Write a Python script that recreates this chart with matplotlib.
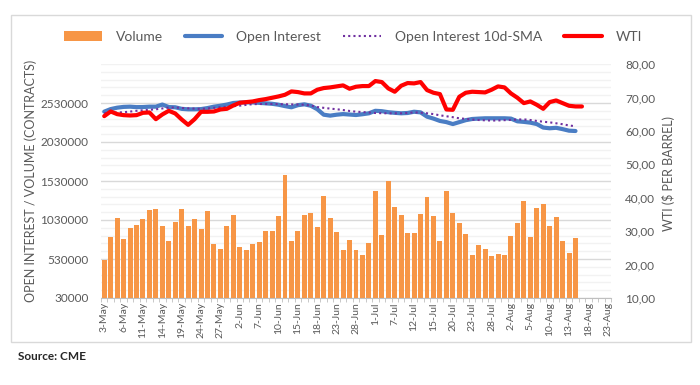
#!/usr/bin/env python
"""
WTI futures: volume, open interest and price (CME)
"""
import numpy as np
import matplotlib
matplotlib.use("Agg")
import matplotlib.pyplot as mp
from matplotlib.patches import Patch, Rectangle
from matplotlib.lines import Line2D
from matplotlib.ticker import MultipleLocator, FuncFormatter

mp.rcParams['font.family'] = ['Lato', 'DejaVu Sans']

n_cat = 79   # trading days 3-May .. 23-Aug
tick_labels = ["3-May", "6-May", "11-May", "14-May", "19-May", "24-May", "27-May",
               "2-Jun", "7-Jun", "10-Jun", "15-Jun", "18-Jun", "23-Jun", "28-Jun",
               "1-Jul", "7-Jul", "12-Jul", "15-Jul", "20-Jul", "23-Jul", "28-Jul",
               "2-Aug", "5-Aug", "10-Aug", "13-Aug", "18-Aug", "23-Aug"]

volume = [522, 810, 1052, 790, 924, 963, 1039, 1153, 1166, 950,
          764, 1006, 1166, 950, 1039, 912, 1141, 721, 662, 950,
          1090, 683, 650, 721, 746, 891, 887, 1082, 1611, 759,
          891, 1095, 1115, 937, 1344, 1052, 879, 650, 777, 650,
          586, 734, 1400, 840, 1527, 1197, 1095, 866, 862, 1107,
          1324, 1077, 764, 1400, 1120, 993, 853, 586, 713, 662,
          573, 599, 586, 828, 993, 1273, 815, 1184, 1235, 955,
          1069, 764, 611, 802]

open_interest = [2419, 2452, 2470, 2480, 2483, 2477, 2478, 2483, 2483, 2510,
                 2478, 2475, 2455, 2449, 2449, 2452, 2465, 2483, 2495, 2510,
                 2530, 2536, 2538, 2538, 2532, 2526, 2520, 2508, 2490, 2475,
                 2502, 2513, 2495, 2450, 2380, 2368, 2380, 2388, 2382, 2376,
                 2386, 2398, 2430, 2425, 2412, 2404, 2398, 2402, 2418, 2410,
                 2355, 2330, 2300, 2285, 2260, 2285, 2310, 2325, 2330, 2334,
                 2334, 2334, 2334, 2330, 2295, 2288, 2278, 2260, 2215, 2206,
                 2212, 2195, 2175, 2171]

oi_sma10 = [2400, 2405, 2408, 2412, 2420, 2430, 2437, 2443, 2449, 2460,
            2472, 2472, 2466, 2462, 2458, 2454, 2460, 2468, 2476, 2482,
            2489, 2496, 2506, 2515, 2517, 2517, 2517, 2516, 2514, 2512,
            2510, 2508, 2498, 2478, 2468, 2458, 2450, 2440, 2428, 2419,
            2414, 2408, 2402, 2399, 2398, 2398, 2398, 2402, 2410, 2406,
            2398, 2388, 2372, 2360, 2348, 2334, 2326, 2318, 2312, 2308,
            2305, 2306, 2310, 2313, 2318, 2320, 2312, 2300, 2290, 2282,
            2270, 2258, 2242, 2232]

wti = [64.4, 65.8, 65.0, 64.7, 64.6, 64.7, 65.4, 65.5, 63.5, 64.9,
       66.0, 65.2, 63.4, 61.8, 63.5, 65.7, 65.7, 65.8, 66.4, 66.6,
       67.6, 68.4, 68.6, 68.8, 69.2, 69.5, 69.9, 70.3, 70.8, 71.8,
       71.6, 71.2, 71.2, 72.3, 72.8, 73.0, 73.3, 73.6, 72.6, 73.2,
       73.4, 73.4, 74.9, 74.6, 72.7, 71.7, 73.5, 74.3, 74.2, 74.6,
       72.2, 71.4, 71.0, 66.4, 66.3, 70.2, 71.4, 71.7, 71.6, 71.5,
       72.3, 73.3, 73.0, 71.2, 69.9, 68.3, 68.8, 67.8, 66.6, 68.6,
       69.1, 68.3, 67.5, 67.3, 67.3]

C_VOL = "#F79646"
C_OI = "#4A7DC4"
C_SMA = "#7030A0"
C_WTI = "#FF0000"
C_TXT = "#595959"


def main():
    fig = mp.figure(figsize=(7.0, 3.85), dpi=100)
    fig.patches.append(Rectangle((11/700, 1-342/385), 680/700, 327/385,
                                 transform=fig.transFigure, fill=False,
                                 edgecolor="#D9D9D9", lw=1.0))
    ax = fig.add_axes([101/700, 1-298/385, 510/700, 234/385])
    ax2 = ax.twinx()

    xv = np.arange(len(volume))
    ax.bar(xv, np.array(volume)*1000, width=0.77, color=C_VOL, zorder=2)
    ax.plot(np.arange(len(open_interest)), np.array(open_interest)*1000,
            color=C_OI, lw=3, solid_capstyle="round", zorder=3)
    ax.plot(np.arange(len(oi_sma10)), np.array(oi_sma10)*1000,
            color=C_SMA, lw=1.5, ls=(0, (1, 1.5)), zorder=4)
    ax2.plot(np.arange(len(wti)), wti, color=C_WTI, lw=3,
             solid_capstyle="round", zorder=5)

    ax.set_xlim(-0.5, n_cat - 0.5)
    ax.set_ylim(30000, 3030000)
    ax2.set_ylim(10, 80)

    ax.set_yticks(np.arange(30000, 2530001, 500000))
    ax.set_yticks(np.arange(30000, 3030001, 100000), minor=True)
    ax.yaxis.set_major_formatter(FuncFormatter(lambda v, p: "%d" % round(v)))
    ax.grid(axis="y", which="major", color="#D9D9D9", lw=1.0, zorder=0)
    ax.grid(axis="y", which="minor", color="#F2F2F2", lw=1.0, zorder=0)
    ax.set_axisbelow(True)

    ax2.yaxis.set_major_locator(MultipleLocator(10))
    ax2.yaxis.set_major_formatter(FuncFormatter(lambda v, p: ("%.2f" % v).replace(".", ",")))

    ax.set_xticks(np.arange(0, n_cat, 3))
    ax.set_xticklabels(tick_labels, rotation=90, fontsize=7.5, color=C_TXT)
    ax.set_xticks(np.arange(-0.5, n_cat, 1), minor=True)
    ax.tick_params(axis="x", which="major", length=0, pad=3)
    ax.tick_params(axis="x", which="minor", length=3, color="#BFBFBF")

    ax.tick_params(axis="y", which="both", length=0, labelsize=8.5,
                   labelcolor=C_TXT, pad=9)
    ax2.tick_params(axis="y", length=0, labelsize=8.5, labelcolor=C_TXT, pad=10)

    for a in (ax, ax2):
        for s in ("top", "left", "right"):
            a.spines[s].set_visible(False)
        a.spines["bottom"].set_color("#BFBFBF")
    ax2.spines["bottom"].set_visible(False)

    ax.set_ylabel("OPEN INTEREST / VOLUME (CONTRACTS)", fontsize=9, color=C_TXT)
    ax.yaxis.set_label_coords(37/700, 1-181/385, transform=fig.transFigure)
    ax2.set_ylabel("WTI ($ PER BARREL)", fontsize=9, color=C_TXT)
    ax2.yaxis.set_label_coords(662/700, 1-174/385, transform=fig.transFigure)

    handles = [Patch(facecolor=C_VOL, edgecolor="none"),
               Line2D([], [], color=C_OI, lw=3, solid_capstyle="round"),
               Line2D([], [], color=C_SMA, lw=1.5, ls=(0, (1, 1.5))),
               Line2D([], [], color=C_WTI, lw=3, solid_capstyle="round")]
    labels = ["Volume", "Open Interest", "Open Interest 10d-SMA", "WTI"]
    fig.legend(handles, labels, loc="center", bbox_to_anchor=(353/700, 1-37/385),
               ncol=4, frameon=False, fontsize=10, handlelength=2.7,
               columnspacing=1.6, handletextpad=1.0, labelcolor=C_TXT)

    fig.text(18/700, 1-356/385, "Source: CME", fontsize=8.5, fontweight="bold",
             color="#262626", va="center")

    fig.savefig("out.png", dpi=100)


if __name__ == '__main__':
    main()
